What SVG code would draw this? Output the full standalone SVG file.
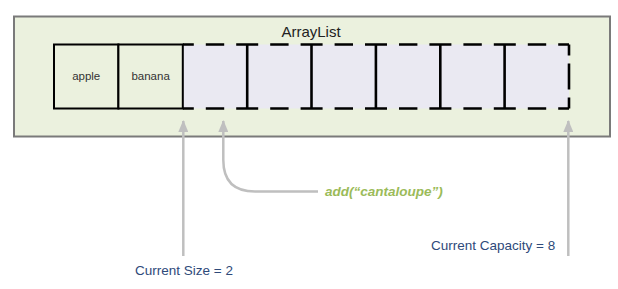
<svg xmlns="http://www.w3.org/2000/svg" width="618" height="289" viewBox="0 0 618 289">
<style>
.lbl{font-family:"Liberation Sans",Arial,sans-serif;fill:#333333;font-size:11.5px;text-anchor:middle}
.blue{font-family:"Liberation Sans",Arial,sans-serif;fill:#2e4a7a;font-size:13.5px}
.green{font-family:"Liberation Sans",Arial,sans-serif;fill:#9bbb59;font-size:13.5px;font-style:italic;font-weight:bold}
.conn{fill:none;stroke:#bfbfbf;stroke-width:2.5}
</style>
<defs>
<marker id="ah" viewBox="0 0 12 10" refX="11" refY="5" markerWidth="12" markerHeight="10" markerUnits="userSpaceOnUse" orient="auto">
<path d="M0,0 L12,5 L0,10 Z" fill="#bfbfbf"/>
</marker>
</defs>
<g id="arraylist">
<rect x="14" y="16.5" width="596" height="120" fill="#ebf1de" stroke="#7a7a7a" stroke-width="2"/>
<text x="311" y="37" font-family="'Liberation Sans',Arial,sans-serif" font-size="15" fill="#222222" text-anchor="middle">ArrayList</text>
</g>
<g id="empty-cells">
<rect x="182.8" y="44.5" width="386.2" height="64" fill="#eae9f2"/>
<g stroke="#000000" stroke-width="2.6" fill="none">
<line x1="182.8" y1="44.5" x2="569" y2="44.5" stroke-dasharray="22 12 18.4 12" stroke-dashoffset="11"/>
<line x1="182.8" y1="108.5" x2="569" y2="108.5" stroke-dasharray="22 12 18.4 12" stroke-dashoffset="11"/>
<line x1="247.2" y1="44.5" x2="247.2" y2="108.5"/>
<line x1="311.5" y1="44.5" x2="311.5" y2="108.5"/>
<line x1="375.9" y1="44.5" x2="375.9" y2="108.5"/>
<line x1="440.3" y1="44.5" x2="440.3" y2="108.5"/>
<line x1="504.6" y1="44.5" x2="504.6" y2="108.5"/>
<line x1="569" y1="44.5" x2="569" y2="108.5" stroke-dasharray="11 8 26 8 11"/>
</g>
</g>
<g id="cell-apple">
<rect x="54" y="44.5" width="64.4" height="64" fill="#ebf1de" stroke="#000000" stroke-width="2"/>
<text class="lbl" x="86.2" y="80">apple</text>
</g>
<g id="cell-banana">
<rect x="118.4" y="44.5" width="64.4" height="64" fill="#ebf1de" stroke="#000000" stroke-width="2"/>
<text class="lbl" x="150.6" y="80">banana</text>
</g>
<g id="connectors">
<path class="conn" d="M183.3,256 L183.3,121" marker-end="url(#ah)"/>
<path class="conn" d="M318,191.5 L255,191.5 Q223.3,191.5 223.3,160 L223.3,121" marker-end="url(#ah)"/>
<path class="conn" d="M568.3,256 L568.3,121" marker-end="url(#ah)"/>
</g>
<g id="label-add">
<text class="green" x="325" y="196">add(“cantaloupe”)</text>
</g>
<g id="label-capacity">
<text class="blue" x="431" y="250">Current Capacity = 8</text>
</g>
<g id="label-size">
<text class="blue" x="135" y="275">Current Size = 2</text>
</g>
</svg>
